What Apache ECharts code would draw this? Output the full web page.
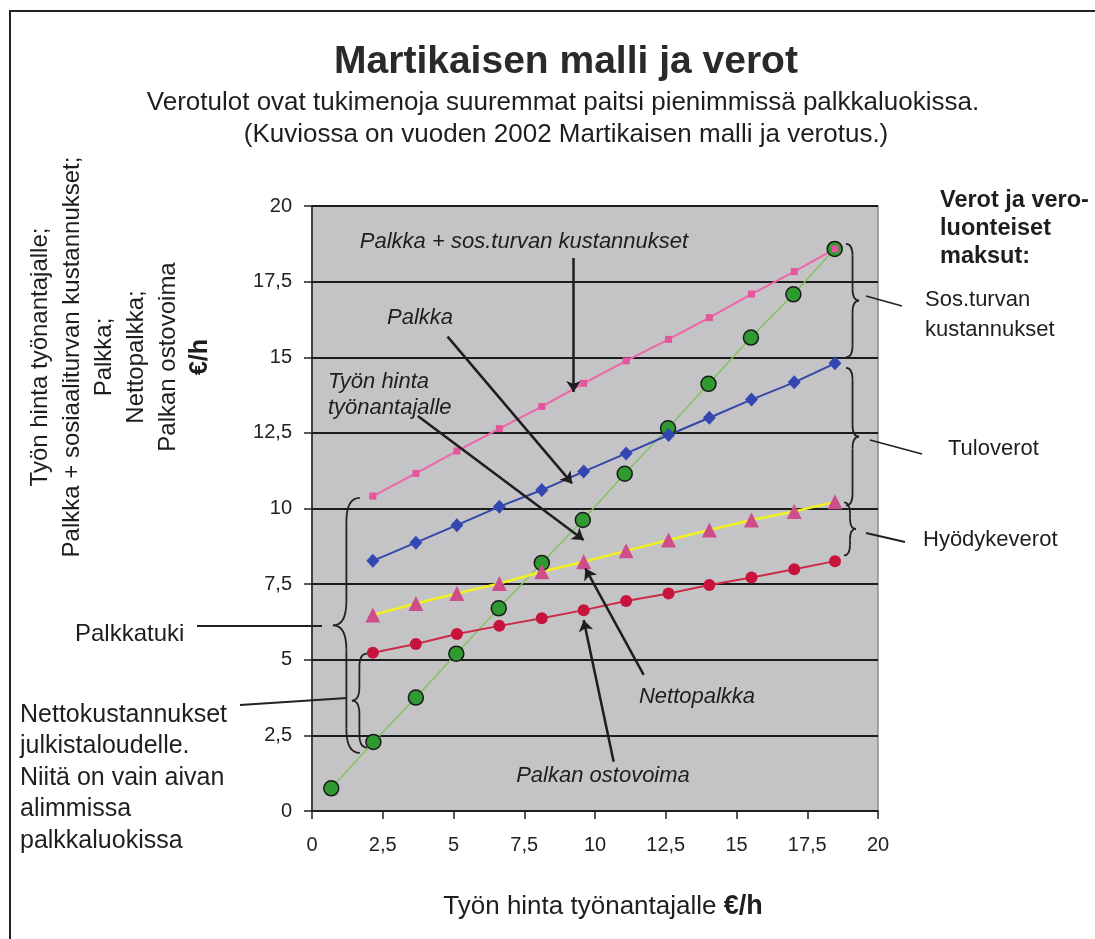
<!DOCTYPE html>
<html>
<head>
<meta charset="utf-8">
<script src="https://cdn.jsdelivr.net/npm/echarts@6/dist/echarts.min.js"></script>
<style>
  html, body { margin: 0; padding: 0; background: #fff; }
  #chart { width: 1095px; height: 939px; }
</style>
</head>
<body>
<div id="chart"></div>
<script>
  // x = työn hinta työnantajalle (€/h)
  const hintaX = [0.68, 2.17, 3.67, 5.1, 6.6, 8.12, 9.57, 11.05, 12.58, 14.01, 15.51, 17.01, 18.47]
  const tyonHinta = [0.75, 2.28, 3.75, 5.2, 6.7, 8.2, 9.62, 11.15, 12.65, 14.12, 15.65, 17.08, 18.58]
  const palkkaX = [2.15, 3.67, 5.12, 6.62, 8.12, 9.6, 11.1, 12.6, 14.04, 15.53, 17.04, 18.48]
  const palkkaSos = [10.41, 11.16, 11.9, 12.64, 13.37, 14.14, 14.88, 15.59, 16.31, 17.09, 17.83, 18.58]
  const palkka = [8.27, 8.87, 9.45, 10.06, 10.61, 11.22, 11.82, 12.43, 13.0, 13.6, 14.17, 14.8]
  const nettopalkka = [6.48, 6.86, 7.19, 7.52, 7.91, 8.24, 8.6, 8.96, 9.29, 9.62, 9.9, 10.22]
  const ostovoima = [5.23, 5.52, 5.85, 6.12, 6.37, 6.64, 6.94, 7.19, 7.47, 7.72, 7.99, 8.26]
  const axisTicks = [0, 20, 2.5]

  const font = 'Liberation Sans, Arial, Helvetica, sans-serif'
  const pairs = (xs, ys) => xs.map((x, i) => [x, ys[i]])
  const fmt = v => String(v).replace('.', ',')

  // arrows from the italic labels, in data units
  const arrows = [
    [[9.24, 18.28], [9.24, 13.85]],
    [[4.79, 15.68], [9.19, 10.83]],
    [[3.74, 13.06], [9.6, 8.96]],
    [[11.72, 4.5], [9.66, 8.02]],
    [[10.66, 1.63], [9.6, 6.31]]
  ]

  const chart = echarts.init(document.getElementById('chart'))

  chart.setOption({
    backgroundColor: '#fff',
    animation: false,
    grid: {
      left: 312, top: 206, right: 217, bottom: 128,
      show: true,
      backgroundColor: '#c4c4c6',
      borderColor: '#8a8a8a',
      borderWidth: 1.5
    },
    xAxis: {
      type: 'value',
      min: axisTicks[0], max: axisTicks[1], interval: axisTicks[2],
      splitLine: { show: false },
      axisLine: { lineStyle: { color: '#222', width: 1.5 } },
      axisTick: { show: true, length: 8, lineStyle: { color: '#222', width: 1.5 } },
      axisLabel: { color: '#222', fontSize: 20, fontFamily: font, margin: 24, formatter: fmt }
    },
    yAxis: {
      type: 'value',
      min: axisTicks[0], max: axisTicks[1], interval: axisTicks[2],
      splitLine: { show: true, lineStyle: { color: '#1c1c1c', width: 2 } },
      axisLine: { show: true, lineStyle: { color: '#222', width: 1.5 } },
      axisTick: { show: true, length: 8, lineStyle: { color: '#222', width: 1.5 } },
      axisLabel: { color: '#222', fontSize: 20, fontFamily: font, margin: 20, formatter: fmt }
    },
    series: [
      {
        name: 'Työn hinta työnantajalle',
        type: 'line',
        data: pairs(hintaX, tyonHinta),
        symbol: 'circle', symbolSize: 15,
        lineStyle: { color: '#84c262', width: 1.5 },
        itemStyle: { color: '#2f9a30', borderColor: '#1a1a1a', borderWidth: 1.5 }
      },
      {
        name: 'Palkan ostovoima',
        type: 'line',
        data: pairs(palkkaX, ostovoima),
        symbol: 'circle', symbolSize: 12,
        lineStyle: { color: '#cc2a48', width: 2 },
        itemStyle: { color: '#c8143c' }
      },
      {
        name: 'Nettopalkka',
        type: 'line',
        data: pairs(palkkaX, nettopalkka),
        symbol: 'triangle', symbolSize: 15,
        lineStyle: { color: '#f2f020', width: 2.5 },
        itemStyle: { color: '#cf4d8a' }
      },
      {
        name: 'Palkka',
        type: 'line',
        data: pairs(palkkaX, palkka),
        symbol: 'diamond', symbolSize: [13, 14],
        lineStyle: { color: '#3447a8', width: 2 },
        itemStyle: { color: '#3346b2' }
      },
      {
        name: 'Palkka + sos.turvan kustannukset',
        type: 'line',
        data: pairs(palkkaX, palkkaSos),
        symbol: 'rect', symbolSize: 7,
        lineStyle: { color: '#f064ac', width: 2 },
        itemStyle: { color: '#e4559c' }
      },
      {
        type: 'line',
        data: [],
        silent: true,
        markLine: {
          silent: true,
          symbol: ['none', 'arrow'],
          symbolSize: 11,
          label: { show: false },
          lineStyle: { color: '#1e1e1e', width: 2.5, type: 'solid' },
          data: arrows.map(a => [{ coord: a[0] }, { coord: a[1] }])
        }
      }
    ]
  })

  // curly braces, end points in data units
  const px = (x, y) => chart.convertToPixel({ gridIndex: 0 }, [x, y])
  const stroke = { stroke: '#222', lineWidth: 1.8, fill: 'none' }
  const curve = (x1, y1, cx, cy, x2, y2) => ({
    type: 'bezierCurve', z: 50,
    shape: { x1: x1, y1: y1, x2: x2, y2: y2, cpx1: cx, cpy1: cy },
    style: stroke
  })
  const seg = (x1, y1, x2, y2) => ({
    type: 'line', z: 50,
    shape: { x1: x1, y1: y1, x2: x2, y2: y2 },
    style: stroke
  })
  function brace(open, tip, y1, y2) {
    const a = px(open, y1), b = px(open, y2), t = px(tip, y1)
    const x = a[0], w = t[0] - a[0], h = w / 2
    const top = a[1], bot = b[1], m = (top + bot) / 2
    const r = Math.min(Math.abs(w) * 0.9, (bot - top) / 4)
    return [
      curve(x, top, x + h, top, x + h, top + r),
      seg(x + h, top + r, x + h, m - r),
      curve(x + h, m - r, x + h, m, x + w, m),
      curve(x + w, m, x + h, m, x + h, m + r),
      seg(x + h, m + r, x + h, bot - r),
      curve(x + h, bot - r, x + h, bot, x, bot)
    ]
  }
  const braces = [
    [18.87, 19.33, 18.75, 15.0],
    [18.87, 19.33, 14.65, 10.1],
    [18.8, 19.22, 10.2, 8.45],
    [1.69, 0.74, 10.35, 1.92],
    [1.94, 1.41, 5.2, 2.1]
  ]
  let braceEls = []
  braces.forEach(b => { braceEls = braceEls.concat(brace(b[0], b[1], b[2], b[3])) })

  const leader = (x1, y1, x2, y2) => seg(x1, y1, x2, y2)

  const txt = (x, y, text, extra) => ({
    type: 'text', x: x, y: y, z: 60,
    style: Object.assign({
      text: text, fill: '#1e1e1e', font: '22px ' + font,
      textAlign: 'left', textVerticalAlign: 'middle'
    }, extra || {})
  })

  chart.setOption({
    graphic: [
      {
        type: 'rect', z: 70,
        shape: { x: 10, y: 11, width: 1100, height: 940 },
        style: { fill: 'none', stroke: '#222', lineWidth: 2 }
      },
      txt(566, 62, 'Martikaisen malli ja verot',
        { font: 'bold 39px ' + font, textAlign: 'center', fill: '#2a2a2a' }),
      txt(563, 103, 'Verotulot ovat tukimenoja suuremmat paitsi pienimmissä palkkaluokissa.',
        { font: '26px ' + font, textAlign: 'center' }),
      txt(566, 135, '(Kuviossa on vuoden 2002 Martikaisen malli ja verotus.)',
        { font: '26px ' + font, textAlign: 'center' }),
      {
        type: 'text', x: 120, y: 357, rotation: Math.PI / 2, z: 60,
        style: {
          text: 'Työn hinta työnantajalle;\nPalkka + sosiaaliturvan kustannukset;\nPalkka;\nNettopalkka;\nPalkan ostovoima\n{b|€/h}',
          font: '24px ' + font, fill: '#1e1e1e', lineHeight: 32,
          textAlign: 'center', textVerticalAlign: 'middle',
          rich: { b: { font: 'bold 25px ' + font, lineHeight: 32 } }
        }
      },
      txt(603, 907, 'Työn hinta työnantajalle {b|€/h}', {
        font: '26px ' + font, textAlign: 'center',
        rich: { b: { font: 'bold 27px ' + font } }
      }),
      txt(940, 229, 'Verot ja vero-\nluonteiset\nmaksut:', { font: 'bold 23.5px ' + font, lineHeight: 28 }),
      txt(925, 315, 'Sos.turvan\nkustannukset', { lineHeight: 30 }),
      txt(948, 449, 'Tuloverot'),
      txt(923, 540, 'Hyödykeverot'),
      txt(75, 634, 'Palkkatuki', { font: '24px ' + font }),
      txt(20, 778, 'Nettokustannukset\njulkistaloudelle.\nNiitä on vain aivan\nalimmissa\npalkkaluokissa',
        { font: '25px ' + font, lineHeight: 31.5 }),
      txt(524, 242, 'Palkka + sos.turvan kustannukset', { font: 'italic 22px ' + font, textAlign: 'center' }),
      txt(420, 318, 'Palkka', { font: 'italic 22px ' + font, textAlign: 'center' }),
      txt(328, 395, 'Työn hinta\ntyönantajalle', { font: 'italic 22px ' + font, lineHeight: 26 }),
      txt(697, 697, 'Nettopalkka', { font: 'italic 22px ' + font, textAlign: 'center' }),
      txt(603, 776, 'Palkan ostovoima', { font: 'italic 22px ' + font, textAlign: 'center' }),
      leader(197, 626, 322, 626),
      leader(240, 705, 347, 698),
      leader(866, 296, 902, 306),
      leader(870, 440, 922, 454),
      leader(866, 533, 905, 542)
    ].concat(braceEls)
  })
</script>
</body>
</html>
